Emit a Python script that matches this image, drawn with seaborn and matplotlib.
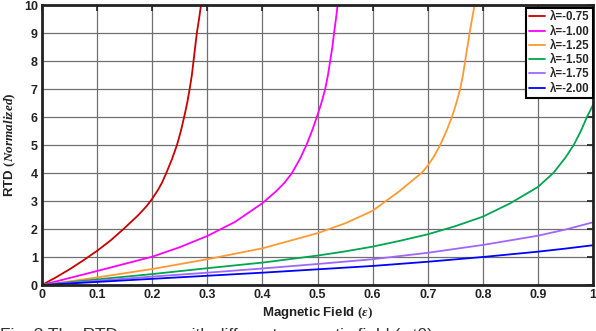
import numpy as np
import pandas as pd
import matplotlib
matplotlib.use("Agg")
import matplotlib.pyplot as plt
import seaborn as sns
from matplotlib.lines import Line2D

# ---- data ----
labels = ["λ=-0.75", "λ=-1.00", "λ=-1.25", "λ=-1.50", "λ=-1.75", "λ=-2.00"]
colors = ["#c80000", "#ff00ff", "#ff9933", "#00a550", "#a066ff", "#0000ff"]

x_075 = [0, 0.025, 0.05, 0.075, 0.1, 0.125, 0.148, 0.175, 0.19, 0.2, 0.21, 0.218, 0.2256, 0.236,
         0.245, 0.252, 0.258, 0.2635, 0.268, 0.272, 0.275, 0.278, 0.281, 0.285, 0.2886]
y_075 = [0, 0.27, 0.56, 0.88, 1.22, 1.6, 2.0, 2.5, 2.82, 3.08, 3.38, 3.66, 4.0, 4.5,
         5.0, 5.5, 6.0, 6.5, 7.0, 7.5, 8.0, 8.5, 9.0, 9.5, 10.0]

x_100 = [0, 0.1, 0.2, 0.25, 0.3, 0.35, 0.4, 0.425, 0.44, 0.4537, 0.468, 0.48, 0.49, 0.5,
         0.507, 0.514, 0.519, 0.523, 0.527, 0.530, 0.5335, 0.5365]
y_100 = [0, 0.5, 1.01, 1.35, 1.75, 2.25, 2.92, 3.35, 3.65, 4.0, 4.5, 5.0, 5.5, 6.07,
         6.5, 7.0, 7.5, 8.0, 8.5, 9.0, 9.5, 10.0]

x_125 = [0, 0.05, 0.1, 0.2, 0.3, 0.4, 0.5, 0.55, 0.6, 0.65, 0.675, 0.69, 0.7, 0.711, 0.7227,
         0.734, 0.744, 0.752, 0.759, 0.764, 0.768, 0.772, 0.776, 0.7805, 0.785]
y_125 = [0, 0.13, 0.27, 0.57, 0.92, 1.31, 1.85, 2.2, 2.65, 3.37, 3.78, 4.02, 4.26, 4.58, 5.0,
         5.5, 6.0, 6.5, 7.0, 7.5, 8.0, 8.5, 9.0, 9.5, 10.0]

x_150 = [0, 0.1, 0.2, 0.3, 0.4, 0.5, 0.55, 0.6, 0.65, 0.7, 0.75, 0.8, 0.85, 0.9,
         0.928, 0.95, 0.965, 0.978, 0.989, 1.0]
y_150 = [0, 0.2, 0.39, 0.6, 0.8, 1.05, 1.2, 1.37, 1.58, 1.81, 2.1, 2.44, 2.92, 3.5,
         4.0, 4.55, 5.0, 5.5, 6.0, 6.43]

x_175 = [0, 0.1, 0.2, 0.3, 0.4, 0.5, 0.6, 0.7, 0.8, 0.9, 0.95, 1.0]
y_175 = [0, 0.15, 0.3, 0.44, 0.59, 0.75, 0.92, 1.15, 1.43, 1.76, 1.98, 2.24]

x_200 = [0, 0.1, 0.2, 0.3, 0.4, 0.5, 0.6, 0.7, 0.8, 0.9, 0.95, 1.0]
y_200 = [0, 0.11, 0.22, 0.33, 0.44, 0.56, 0.68, 0.83, 1.0, 1.19, 1.3, 1.42]

xticks = [0, 0.1, 0.2, 0.3, 0.4, 0.5, 0.6, 0.7, 0.8, 0.9, 1]
xticklabels = ["0", "0.1", "0.2", "0.3", "0.4", "0.5", "0.6", "0.7", "0.8", "0.9", "1"]
yticks = list(range(0, 11))

caption = "Fig. 3 The RTD curves with different magnetic field (ε≠0)"

series_x = [x_075, x_100, x_125, x_150, x_175, x_200]
series_y = [y_075, y_100, y_125, y_150, y_175, y_200]

frames = []
for lab, xs, ys in zip(labels, series_x, series_y):
    frames.append(pd.DataFrame({"x": xs, "y": ys, "series": lab}))
df = pd.concat(frames, ignore_index=True)

# ---- style ----
sns.set_style("white")
plt.rcParams["font.family"] = ["Liberation Sans", "DejaVu Sans"]
plt.rcParams["font.weight"] = "bold"
plt.rcParams["mathtext.fontset"] = "custom"
plt.rcParams["mathtext.rm"] = "Liberation Serif"
plt.rcParams["mathtext.it"] = "Liberation Serif:italic"
plt.rcParams["mathtext.bf"] = "Liberation Sans:bold"

fig = plt.figure(figsize=(5.96, 3.31), dpi=100)
ax = fig.add_axes([42 / 596, 1 - 285 / 331, 551 / 596, 280 / 331])

sns.lineplot(data=df, x="x", y="y", hue="series", palette=dict(zip(labels, colors)),
             hue_order=labels, estimator=None, sort=False, linewidth=1.3, ax=ax,
             legend=False)

ax.set_xlim(0, 1)
ax.set_ylim(0, 10)
ax.set_xticks(xticks)
ax.set_xticklabels(xticklabels)
ax.set_yticks(yticks)
ax.grid(True, color="#707070", linewidth=0.9)
ax.set_axisbelow(True)
for s in ax.spines.values():
    s.set_visible(True)
    s.set_color("#222222")
    s.set_linewidth(2.0)
ax.tick_params(direction="in", length=4, width=1.2, colors="#222222",
               top=True, right=True, labelsize=9, pad=3)
for t in ax.get_xticklabels() + ax.get_yticklabels():
    t.set_fontweight("bold")
    t.set_color("#222222")

ax.set_xlabel(r"$\mathbf{Magnetic\ Field}$ $(\mathit{\varepsilon})$", fontsize=9.5, labelpad=3, color="#222222")
ax.set_ylabel(r"$\mathbf{RTD}$ $(\mathit{Normalized})$", fontsize=9.5, labelpad=4, color="#222222")

handles = [Line2D([0], [0], color=c, lw=1.3) for c in colors]
leg = ax.legend(handles, labels, loc="upper right", bbox_to_anchor=(1.0, 0.99),
                fontsize=8.3, frameon=True, fancybox=False, handlelength=1.4,
                handletextpad=0.4, labelspacing=0.2, borderpad=0.3, borderaxespad=0.0)
leg.get_frame().set_edgecolor("black")
leg.get_frame().set_linewidth(1.5)
leg.get_frame().set_alpha(1)
for t in leg.get_texts():
    t.set_fontweight("bold")

# caption, cut off by the bottom edge as in the reference
fig.text(0.0, -9 / 331, caption, fontsize=12.5, va="baseline", ha="left",
         color="#333333", fontweight="normal")

fig.savefig("out.png", dpi=100)
